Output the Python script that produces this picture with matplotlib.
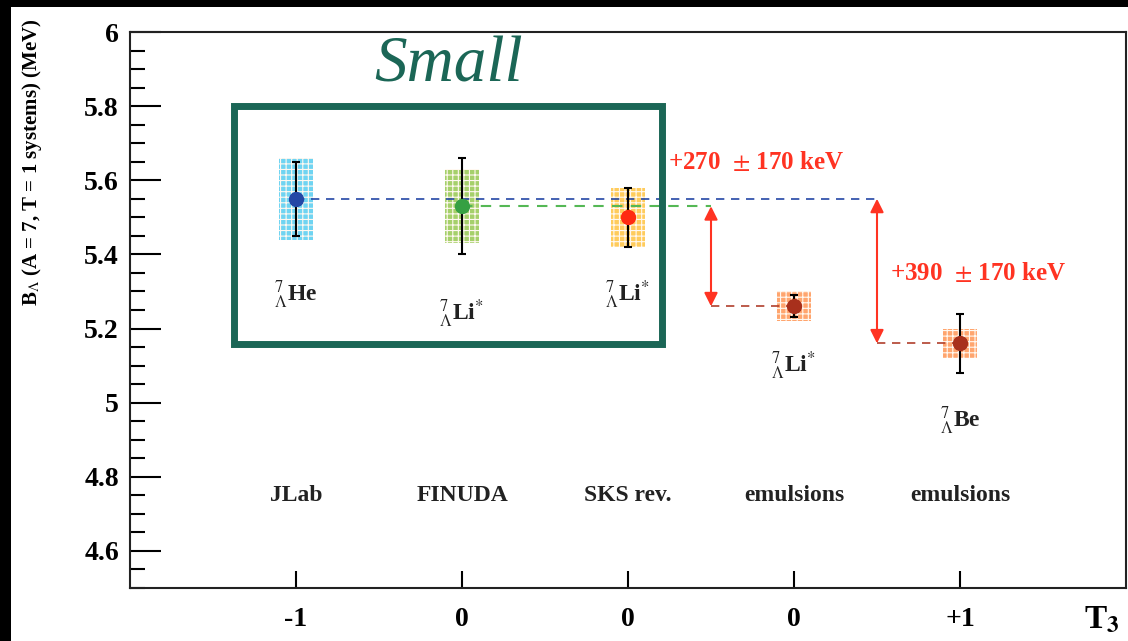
import matplotlib
matplotlib.use("Agg")
import matplotlib.pyplot as plt
from matplotlib.patches import Rectangle
from matplotlib.ticker import MultipleLocator, FixedLocator, FixedFormatter, FuncFormatter

plt.rcParams['mathtext.fontset'] = 'stix'
plt.rcParams['hatch.linewidth'] = 0.8

# ---- data ----
positions = [0, 1, 2, 3, 4]
experiments = ["JLab", "FINUDA", "SKS rev.", "emulsions", "emulsions"]
t3_labels = ["-1", "0", "0", "0", "+1"]
b_lambda = [5.55, 5.53, 5.50, 5.26, 5.16]
stat_err = [0.10, 0.13, 0.08, 0.03, 0.08]
syst_err = [0.11, 0.10, 0.08, 0.04, 0.04]
nuclei = [r"${}^{7}_{\Lambda}$He", r"${}^{7}_{\Lambda}$Li$^{*}$", r"${}^{7}_{\Lambda}$Li$^{*}$",
          r"${}^{7}_{\Lambda}$Li$^{*}$", r"${}^{7}_{\Lambda}$Be"]
nuclei_y = [5.29, 5.24, 5.29, 5.10, 4.95]
marker_colors = ["#2447a6", "#36a043", "#ff2a12", "#a8301c", "#a8301c"]
box_colors = ["#6fd4f2", "#a5d06a", "#ffcc5c", "#ffa56e", "#ffa56e"]
shifts = ["+270  $\\pm$ 170 keV", "+390  $\\pm$ 170 keV"]

W, H = 1128, 641
fig = plt.figure(figsize=(W / 100, H / 100), dpi=100)
fig.patch.set_facecolor("black")
fig.patches.append(Rectangle((11 / W, 0), 1 - 11 / W, (H - 7) / H, transform=fig.transFigure,
                             facecolor="white", edgecolor="none", zorder=-10))

ax = fig.add_axes([130 / W, 1 - 588 / H, (1126 - 130) / W, (588 - 32) / H])
ax.set_facecolor("white")
ax.set_xlim(-1, 5)
ax.set_ylim(4.5, 6.0)

serif_b = dict(family="Liberation Serif", weight="bold")

# systematic boxes
for x, y, s, c in zip(positions, b_lambda, syst_err, box_colors):
    ax.add_patch(Rectangle((x - 0.1, y - s), 0.2, 2 * s, facecolor=c, edgecolor="#fff8f0",
                           hatch="+++", linewidth=0, zorder=2))

# dashed reference lines
ax.plot([positions[0], 3.5], [b_lambda[0]] * 2, ls=(0, (5, 4)), color="#2447a6", lw=1.2, zorder=3)
ax.plot([positions[1], 2.5], [b_lambda[1]] * 2, ls=(0, (5, 4)), color="#55b855", lw=1.5, zorder=3)
ax.plot([2.5, positions[3]], [b_lambda[3]] * 2, ls=(0, (5, 4)), color="#b0402c", lw=1.2, zorder=3)
ax.plot([3.5, positions[4]], [b_lambda[4]] * 2, ls=(0, (5, 4)), color="#b0402c", lw=1.2, zorder=3)

# arrows
for xa, ytop, ybot in [(2.5, b_lambda[1], b_lambda[3]), (3.5, b_lambda[0], b_lambda[4])]:
    ax.annotate("", xy=(xa, ybot), xytext=(xa, ytop),
                arrowprops=dict(arrowstyle="<|-|>", color="#ff3322", lw=1.5,
                                mutation_scale=20, shrinkA=0, shrinkB=0), zorder=4)

# error bars + markers
for x, y, e, c in zip(positions, b_lambda, stat_err, marker_colors):
    ax.errorbar([x], [y], yerr=[e], fmt="o", color=c, ms=10, mec=c, ecolor="black",
                elinewidth=1.5, capsize=3, capthick=1.5, zorder=5)

# texts
ax.text(2.24, 5.65, shifts[0], color="#ff3322", fontsize=18, **serif_b, va="center")
ax.text(3.58, 5.35, shifts[1], color="#ff3322", fontsize=18, **serif_b, va="center")
for x, lab in zip(positions, experiments):
    ax.text(x, 4.75, lab, fontsize=17, ha="center", va="center", color="#222222", **serif_b)
for x, y, lab in zip(positions, nuclei_y, nuclei):
    ax.text(x, y, lab, fontsize=17, ha="center", va="center", color="#222222", **serif_b)

# ticks
ax.yaxis.set_major_locator(MultipleLocator(0.2))
ax.yaxis.set_minor_locator(MultipleLocator(0.05))
ax.xaxis.set_major_locator(FixedLocator(positions))
ax.xaxis.set_major_formatter(FixedFormatter(t3_labels))
ax.tick_params(axis="y", which="major", direction="in", length=22, width=1.5, pad=8)
ax.tick_params(axis="y", which="minor", direction="in", length=11, width=1.5)
ax.tick_params(axis="x", which="major", direction="in", length=12, width=1.5, pad=14)
ax.yaxis.set_major_formatter(FuncFormatter(lambda v, p: f"{v:g}"))
for lab in ax.get_xticklabels() + ax.get_yticklabels():
    lab.set_fontfamily("Liberation Serif")
    lab.set_fontweight("bold")
    lab.set_fontsize(20)
for sp in ax.spines.values():
    sp.set_linewidth(1.5)
    sp.set_color("#222222")

ax.set_ylabel(r"B$_{\Lambda}$ (A = 7, T = 1 systems) (MeV)", fontsize=15, **serif_b)
ax.yaxis.set_label_coords(-0.086, 0.765)

fig.text(1102 / W, 1 - 620 / H, r"T$_{\mathbf{3}}$", fontsize=24, ha="center", va="center", **serif_b)

# annotation box
fig.patches.append(Rectangle((233.5 / W, 1 - 344 / H), (661.5 - 233.5) / W, (344 - 106) / H,
                             transform=fig.transFigure, facecolor="none", edgecolor="#1b6656",
                             linewidth=5, zorder=10))
fig.text(449 / W, 1 - 66 / H, "Small", fontsize=47, family="Liberation Serif", style="italic",
         color="#1b6656", ha="center", va="center")

fig.savefig("out.png", dpi=100, facecolor=fig.get_facecolor())
